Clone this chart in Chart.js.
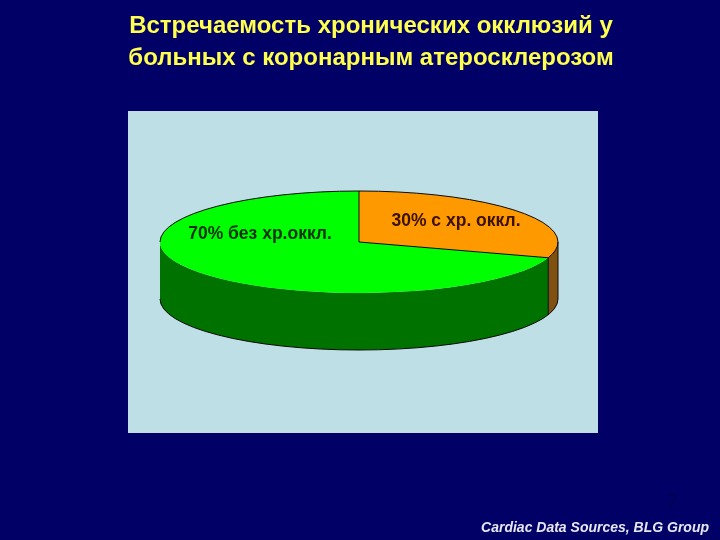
<!DOCTYPE html>
<html>
<head>
<meta charset="utf-8">
<script src="https://cdn.jsdelivr.net/npm/chart.js@4"></script>
<style>
  html, body { margin: 0; background: #000066; }
  canvas { display: block; }
</style>
</head>
<body>
<canvas id="chart" width="720" height="540"></canvas>
<script>
const titleLines = ['Встречаемость хронических окклюзий у', 'больных с коронарным атеросклерозом'];
const categories = ['30% с хр. оккл.', '70% без хр.оккл.'];
const shares = [30, 70];
const topColors = ['#ff9900', '#00ff00'];
const wallColors = ['#805010', '#007200'];
const labelColors = ['#3a1000', '#063006'];
const labelSpots = [[456, 221], [260, 234]];
const footerText = 'Cardiac Data Sources, BLG Group';
// slide number is almost the same colour as the background, the digit is a best guess
const slideNumber = '7';

const panel = { left: 128, top: 111, right: 598, bottom: 433 };
const pie = { x: 359, y: 242, radius: 199, squash: 51 / 199, depth: 57 };

// the library draws a round pie, so it gets flattened here and the rim is added by hand
function tilt(ctx, arc) {
  ctx.translate(pie.x, pie.y);
  ctx.scale(1, pie.squash);
  ctx.translate(-arc.x, -arc.y);
}

function wallPath(ctx, arc, from, to) {
  const drop = pie.depth / pie.squash;
  ctx.beginPath();
  ctx.arc(arc.x, arc.y, arc.outerRadius, from, to);
  ctx.arc(arc.x, arc.y + drop, arc.outerRadius, to, from, true);
  ctx.closePath();
}

const pie3d = {
  id: 'pie3d',
  beforeDraw(chart) {
    const { ctx, width, height } = chart;
    ctx.save();
    ctx.fillStyle = '#000066';
    ctx.fillRect(0, 0, width, height);
    ctx.fillStyle = '#bfdfe6';
    ctx.fillRect(panel.left, panel.top, panel.right - panel.left, panel.bottom - panel.top);
    ctx.restore();
  },
  beforeDatasetsDraw(chart) {
    const { ctx } = chart;
    const arcs = chart.getDatasetMeta(0).data;
    ctx.save();
    tilt(ctx, arcs[0]);
    arcs.forEach((arc, i) => {
      const from = Math.max(arc.startAngle, 0);
      const to = Math.min(arc.endAngle, Math.PI);
      if (to <= from) return;
      wallPath(ctx, arc, from, to);
      ctx.fillStyle = wallColors[i];
      ctx.fill();
    });
  },
  afterDatasetsDraw(chart) {
    const { ctx } = chart;
    const arcs = chart.getDatasetMeta(0).data;
    const [first, second] = arcs;
    const drop = pie.depth / pie.squash;
    const r = first.outerRadius;

    // paths are built while flattened, then stroked flat so the line stays 1px
    ctx.beginPath();
    ctx.moveTo(first.x, first.y);
    ctx.arc(first.x, first.y, r, first.startAngle, first.endAngle);
    ctx.closePath();
    ctx.moveTo(first.x - r, first.y);
    ctx.arc(first.x, first.y, r, Math.PI, first.startAngle);
    ctx.moveTo(first.x + r, first.y);
    ctx.lineTo(first.x + r, first.y + drop);
    ctx.arc(first.x, first.y + drop, r, 0, Math.PI);
    ctx.moveTo(first.x + r * Math.cos(second.startAngle), first.y + r * Math.sin(second.startAngle));
    ctx.lineTo(first.x + r * Math.cos(second.startAngle), first.y + drop + r * Math.sin(second.startAngle));
    ctx.restore();
    ctx.save();
    ctx.strokeStyle = '#0a0a0a';
    ctx.lineWidth = 1;
    ctx.stroke();

    ctx.textBaseline = 'middle';
    ctx.textAlign = 'center';
    ctx.font = 'bold 17.5px "Liberation Sans", Arial, sans-serif';
    categories.forEach((text, i) => {
      ctx.fillStyle = labelColors[i];
      ctx.fillText(text, labelSpots[i][0], labelSpots[i][1]);
    });

    ctx.font = '18px "Liberation Sans", Arial, sans-serif';
    ctx.fillStyle = '#00004c';
    ctx.fillText(slideNumber, 672, 502);

    ctx.font = 'italic bold 14px "Liberation Sans", Arial, sans-serif';
    ctx.textAlign = 'right';
    ctx.fillStyle = '#e6e6f2';
    ctx.fillText(footerText, 709, 528);
    ctx.restore();
  },
};

new Chart(document.getElementById('chart'), {
  type: 'pie',
  data: {
    labels: categories,
    datasets: [{
      data: shares,
      backgroundColor: topColors,
      borderWidth: 0,
      radius: pie.radius,
      clip: false,
    }],
  },
  options: {
    responsive: false,
    devicePixelRatio: 1,
    animation: false,
    layout: { padding: { left: 22, top: 0 } },
    plugins: {
      legend: { display: false },
      tooltip: { enabled: false },
      title: {
        display: true,
        text: titleLines,
        color: '#ffff4d',
        font: { family: '"Liberation Sans", Arial, sans-serif', size: 24, weight: 'bold', lineHeight: 1.33 },
        padding: { top: 10, bottom: 0 },
      },
    },
  },
  plugins: [pie3d],
});
</script>
</body>
</html>
